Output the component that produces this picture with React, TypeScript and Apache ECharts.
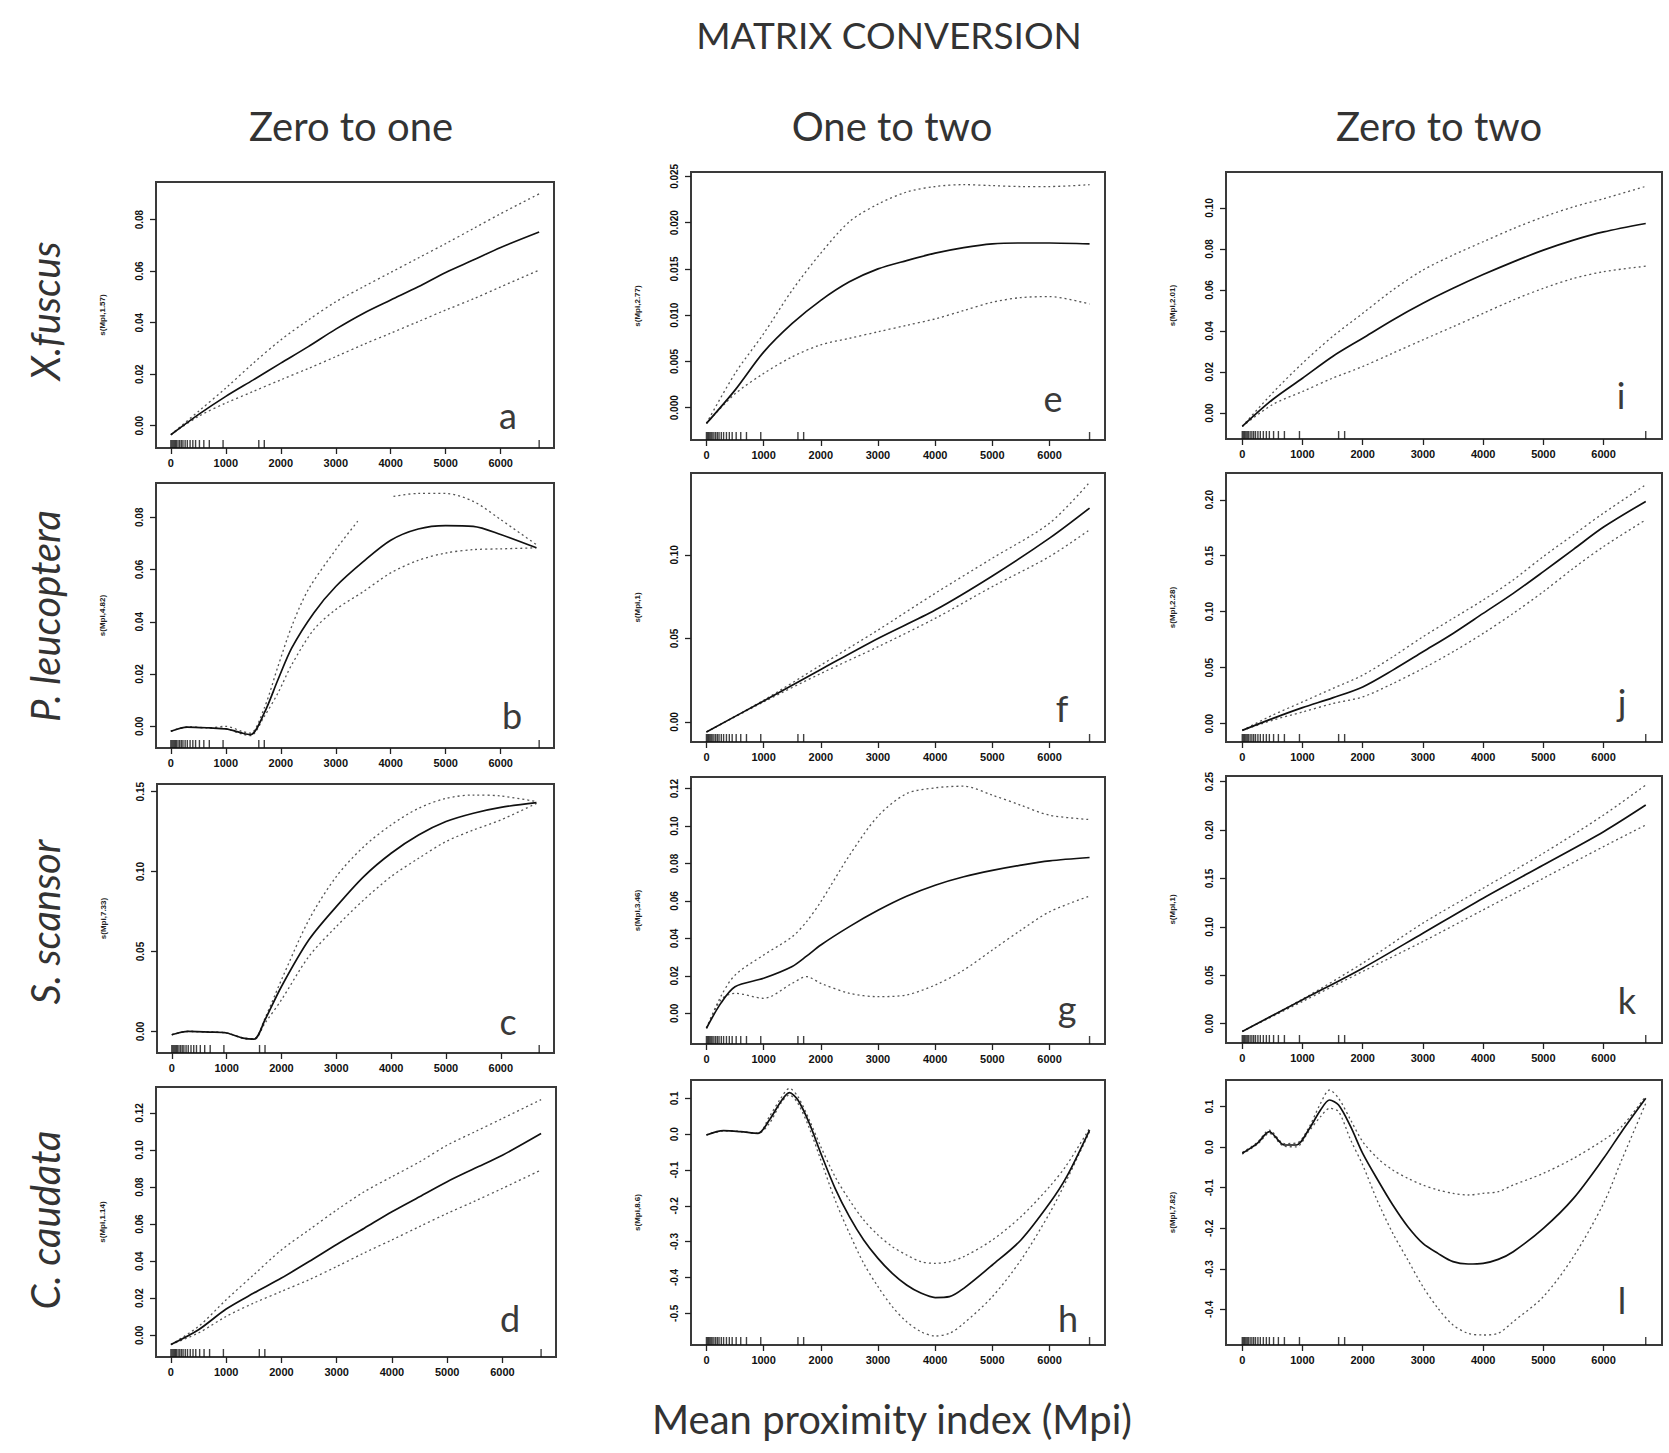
import React, { useEffect, useRef } from "react";
import * as echarts from "echarts";

// ---------- shared axes ----------
const X_MIN = -270;
const X_MAX = 6970;
const X_TICKS = [0, 1000, 2000, 3000, 4000, 5000, 6000];
const X_RUG = [0, 20, 40, 60, 80, 100, 130, 160, 190, 220, 260, 300, 350, 400, 450, 520, 600, 700, 950, 1600, 1700, 6700];

const xStd = [0, 500, 1000, 1500, 2000, 2500, 3000, 3500, 4000, 4500, 5000, 5500, 6000, 6700];
const xSparse = [0, 1000, 2000, 3000, 4000, 5000, 6000, 6700];

// ---------- panel a (X. fuscus, zero to one) ----------
const aFit = [-0.0035, 0.0043, 0.0114, 0.0178, 0.0243, 0.0307, 0.0375, 0.0436, 0.0488, 0.0539, 0.0595, 0.0643, 0.0692, 0.0752];
const aUp = [-0.0035, 0.0055, 0.0146, 0.0243, 0.0333, 0.041, 0.0481, 0.0539, 0.0595, 0.0651, 0.0707, 0.0765, 0.0823, 0.09];
const aLo = [-0.0035, 0.0036, 0.0088, 0.0133, 0.0178, 0.0222, 0.0268, 0.0315, 0.0359, 0.0404, 0.0449, 0.0492, 0.0539, 0.0604];

// ---------- panel b (P. leucoptera, zero to one) ----------
const xB = [0, 300, 700, 1000, 1300, 1450, 1700, 1950, 2200, 2600, 3000, 3500, 4000, 4500, 5000, 5500, 6000, 6650];
const bFit = [-0.0019, -0.0003, -0.0006, -0.001, -0.0026, -0.0032, 0.0051, 0.0179, 0.03, 0.0434, 0.0535, 0.063, 0.0712, 0.0755, 0.0768, 0.0765, 0.0734, 0.0683];
const bLo = [-0.0019, -0.0003, -0.0006, -0.001, -0.003, -0.0036, 0.0038, 0.0128, 0.0236, 0.037, 0.0447, 0.0515, 0.0587, 0.0635, 0.0663, 0.0676, 0.0679, 0.0683];
const xBUp = [0, 300, 700, 1000, 1300, 1450, 1700, 1950, 2200, 2500, 3000, 3400, 3600, 4050, 4500, 5000, 5500, 6000, 6650];
const bUp = [-0.0019, -0.0003, -0.0006, 0.0, -0.002, -0.0026, 0.007, 0.023, 0.0383, 0.0523, 0.0676, 0.0785, null, 0.088, 0.0891, 0.0891, 0.0861, 0.0791, 0.0695];

// ---------- panel c (S. scansor, zero to one) ----------
const xC = [0, 300, 700, 1000, 1300, 1500, 1700, 2000, 2500, 3000, 3500, 4000, 4500, 5000, 5500, 6000, 6650];
const cFit = [-0.0021, 0.0, -0.0004, -0.001, -0.0042, -0.0048, 0.0073, 0.0281, 0.0573, 0.0781, 0.0969, 0.1115, 0.1229, 0.1313, 0.1365, 0.1402, 0.1431];
const cUp = [-0.0021, 0.0, -0.0004, -0.001, -0.004, -0.0046, 0.0083, 0.0323, 0.0698, 0.0969, 0.1156, 0.1292, 0.1396, 0.1458, 0.1479, 0.1473, 0.1438];
const cLo = [-0.0021, 0.0, -0.0004, -0.001, -0.0044, -0.005, 0.0052, 0.0198, 0.0469, 0.0656, 0.0823, 0.0969, 0.1083, 0.1188, 0.126, 0.1323, 0.1427];

// ---------- panel d (C. caudata, zero to one) ----------
const dFit = [-0.005, 0.003, 0.0142, 0.0228, 0.0309, 0.0398, 0.049, 0.0578, 0.0667, 0.0748, 0.0829, 0.0901, 0.0972, 0.1089];
const dUp = [-0.005, 0.0048, 0.0192, 0.0327, 0.0461, 0.0569, 0.0676, 0.0775, 0.0856, 0.0936, 0.1026, 0.1098, 0.117, 0.1272];
const dLo = [-0.005, 0.0013, 0.0102, 0.0174, 0.0237, 0.03, 0.0371, 0.0445, 0.0515, 0.0587, 0.0658, 0.0724, 0.0793, 0.0892];

// ---------- panel e (X. fuscus, one to two) ----------
const eFit = [-0.0017, 0.0019, 0.006, 0.0091, 0.0116, 0.0136, 0.015, 0.0159, 0.0167, 0.0173, 0.0177, 0.0178, 0.0178, 0.0177];
const eUp = [-0.0017, 0.0037, 0.008, 0.0127, 0.0167, 0.0201, 0.022, 0.0233, 0.0239, 0.0241, 0.024, 0.0239, 0.0239, 0.0241];
const eLo = [-0.0017, 0.0015, 0.0037, 0.0055, 0.0068, 0.0075, 0.0082, 0.0089, 0.0096, 0.0105, 0.0114, 0.0119, 0.012, 0.0112];

// ---------- panel f (P. leucoptera, one to two) ----------
const fFit = [-0.006, 0.0126, 0.0314, 0.05, 0.067, 0.0874, 0.11, 0.128];
const fUp = [-0.006, 0.013, 0.034, 0.055, 0.077, 0.098, 0.119, 0.1434];
const fLo = [-0.006, 0.012, 0.029, 0.045, 0.062, 0.081, 0.099, 0.115];

// ---------- panel g (S. scansor, one to two) ----------
const xG = [0, 250, 500, 1000, 1500, 1750, 2000, 2500, 3000, 3500, 4000, 4500, 5000, 5500, 6000, 6700];
const gFit = [-0.008, 0.0053, 0.0142, 0.0187, 0.025, 0.0305, 0.0365, 0.0463, 0.055, 0.0625, 0.0684, 0.0729, 0.0763, 0.0791, 0.0814, 0.0832];
const gUp = [-0.008, 0.0089, 0.0204, 0.0311, 0.0409, 0.0489, 0.0596, 0.0843, 0.1053, 0.1173, 0.1204, 0.1213, 0.1165, 0.1111, 0.1058, 0.1035];
const gLo = [-0.008, 0.0071, 0.0107, 0.008, 0.016, 0.0196, 0.016, 0.0107, 0.0089, 0.0098, 0.0151, 0.0231, 0.0338, 0.0444, 0.0542, 0.0626];

// ---------- panel h (C. caudata, one to two) ----------
const xH = [0, 300, 600, 900, 1100, 1300, 1450, 1600, 1800, 2000, 2250, 2500, 2750, 3000, 3250, 3500, 3750, 4000, 4250, 4500, 5000, 5500, 6000, 6300, 6700];
const hFit = [-0.0023, 0.0098, 0.007, 0.0023, 0.0395, 0.0907, 0.1158, 0.0953, 0.0302, -0.0535, -0.1512, -0.2302, -0.2953, -0.3465, -0.3884, -0.4209, -0.4435, -0.4559, -0.4535, -0.4302, -0.3651, -0.2953, -0.193, -0.1186, 0.0116];
const hUp = [-0.0023, 0.0098, 0.007, 0.0023, 0.0488, 0.1, 0.1279, 0.1047, 0.0395, -0.0349, -0.1186, -0.1837, -0.2395, -0.2814, -0.314, -0.3372, -0.3558, -0.3605, -0.3558, -0.3419, -0.2953, -0.2302, -0.1465, -0.086, 0.0163];
const hLo = [-0.0023, 0.0098, 0.007, 0.0023, 0.0302, 0.086, 0.1093, 0.086, 0.0163, -0.0721, -0.1837, -0.2767, -0.3605, -0.4256, -0.4814, -0.5233, -0.5512, -0.5633, -0.5558, -0.5279, -0.4535, -0.3512, -0.2209, -0.1279, 0.007];

// ---------- panel i (X. fuscus, zero to two) ----------
const iFit = [-0.0065, 0.0065, 0.017, 0.0276, 0.0365, 0.0454, 0.0535, 0.0608, 0.0675, 0.0737, 0.0794, 0.0843, 0.0883, 0.0924];
const iUp = [-0.0065, 0.0097, 0.0243, 0.0373, 0.0486, 0.06, 0.0697, 0.077, 0.0835, 0.0899, 0.0956, 0.1005, 0.1045, 0.1105];
const iLo = [-0.0065, 0.0041, 0.0105, 0.017, 0.0227, 0.0292, 0.0357, 0.0421, 0.0486, 0.0551, 0.0608, 0.0656, 0.0689, 0.0716];

// ---------- panel j (P. leucoptera, zero to two) ----------
const jFit = [-0.006, 0.0045, 0.0143, 0.023, 0.0328, 0.0478, 0.0642, 0.0806, 0.0985, 0.1164, 0.1358, 0.1557, 0.1756, 0.1985];
const jUp = [-0.006, 0.0075, 0.0194, 0.0313, 0.0433, 0.0597, 0.0776, 0.094, 0.1104, 0.1284, 0.1493, 0.1687, 0.1881, 0.2134];
const jLo = [-0.006, 0.003, 0.0104, 0.0179, 0.0239, 0.0358, 0.0493, 0.0642, 0.0806, 0.0985, 0.1179, 0.1388, 0.1582, 0.1821];

// ---------- panel k (S. scansor, zero to two) ----------
const kFit = [-0.0079, 0.0248, 0.0574, 0.0935, 0.1297, 0.164, 0.1984, 0.2259];
const kUp = [-0.0079, 0.0254, 0.0626, 0.1039, 0.14, 0.1761, 0.2156, 0.2466];
const kLo = [-0.0079, 0.023, 0.054, 0.0849, 0.1176, 0.1503, 0.183, 0.2053];

// ---------- panel l (C. caudata, zero to two) ----------
const xL = [0, 250, 450, 700, 900, 1100, 1300, 1450, 1600, 1800, 2000, 2250, 2500, 2750, 3000, 3250, 3500, 3750, 4000, 4250, 4500, 5000, 5500, 6000, 6300, 6700];
const lFit = [-0.0151, 0.0095, 0.0383, 0.0054, 0.0054, 0.0424, 0.0918, 0.1164, 0.1041, 0.0507, -0.0151, -0.0809, -0.1426, -0.1961, -0.2372, -0.2619, -0.2824, -0.2882, -0.2865, -0.2767, -0.2578, -0.2002, -0.1262, -0.0275, 0.0383, 0.1206];
const lUp = [-0.013, 0.012, 0.042, 0.009, 0.01, 0.047, 0.1082, 0.1411, 0.1206, 0.0671, 0.0137, -0.0275, -0.0563, -0.0768, -0.0933, -0.1056, -0.1138, -0.1179, -0.1138, -0.1097, -0.0933, -0.0645, -0.0275, 0.0178, 0.0507, 0.126];
const lLo = [-0.017, 0.007, 0.034, 0.002, 0.001, 0.038, 0.0753, 0.0959, 0.0877, 0.0178, -0.0439, -0.1344, -0.2125, -0.2783, -0.3441, -0.3975, -0.4387, -0.4592, -0.4633, -0.4592, -0.4304, -0.3688, -0.2701, -0.1385, -0.0316, 0.1082];

// ---------- y-axis tick labels ----------
const TICKS_002_08 = [0, 0.02, 0.04, 0.06, 0.08];
const TICKS_005_15 = [0, 0.05, 0.1, 0.15];
const TICKS_002_12 = [0, 0.02, 0.04, 0.06, 0.08, 0.1, 0.12];
const TICKS_0005_025 = [0, 0.005, 0.01, 0.015, 0.02, 0.025];
const TICKS_005_10 = [0, 0.05, 0.1];
const TICKS_H = [-0.5, -0.4, -0.3, -0.2, -0.1, 0.0, 0.1];
const TICKS_002_10 = [0, 0.02, 0.04, 0.06, 0.08, 0.1];
const TICKS_005_20 = [0, 0.05, 0.1, 0.15, 0.2];
const TICKS_005_25 = [0, 0.05, 0.1, 0.15, 0.2, 0.25];
const TICKS_L = [-0.4, -0.3, -0.2, -0.1, 0.0, 0.1];

const Y_NAMES = ["s(Mpi,1.57)", "s(Mpi,4.82)", "s(Mpi,7.33)", "s(Mpi,1.14)", "s(Mpi,2.77)", "s(Mpi,1)", "s(Mpi,3.46)", "s(Mpi,8.6)", "s(Mpi,2.01)", "s(Mpi,2.28)", "s(Mpi,1)", "s(Mpi,7.82)"];
const LETTERS = ["a", "b", "c", "d", "e", "f", "g", "h", "i", "j", "k", "l"];
const COL_TITLES = ["Zero to one", "One to two", "Zero to two"];
const ROW_TITLES = ["X.fuscus", "P. leucoptera", "S. scansor", "C. caudata"];

// panel data (order a..l)
const PANELS = [
  { fitX: xStd, fit: aFit, upX: xStd, up: aUp, loX: xStd, lo: aLo, ticks: TICKS_002_08, dec: 2 },
  { fitX: xB, fit: bFit, upX: xBUp, up: bUp, loX: xB, lo: bLo, ticks: TICKS_002_08, dec: 2 },
  { fitX: xC, fit: cFit, upX: xC, up: cUp, loX: xC, lo: cLo, ticks: TICKS_005_15, dec: 2 },
  { fitX: xStd, fit: dFit, upX: xStd, up: dUp, loX: xStd, lo: dLo, ticks: TICKS_002_12, dec: 2 },
  { fitX: xStd, fit: eFit, upX: xStd, up: eUp, loX: xStd, lo: eLo, ticks: TICKS_0005_025, dec: 3 },
  { fitX: xSparse, fit: fFit, upX: xSparse, up: fUp, loX: xSparse, lo: fLo, ticks: TICKS_005_10, dec: 2 },
  { fitX: xG, fit: gFit, upX: xG, up: gUp, loX: xG, lo: gLo, ticks: TICKS_002_12, dec: 2 },
  { fitX: xH, fit: hFit, upX: xH, up: hUp, loX: xH, lo: hLo, ticks: TICKS_H, dec: 1 },
  { fitX: xStd, fit: iFit, upX: xStd, up: iUp, loX: xStd, lo: iLo, ticks: TICKS_002_10, dec: 2 },
  { fitX: xStd, fit: jFit, upX: xStd, up: jUp, loX: xStd, lo: jLo, ticks: TICKS_005_20, dec: 2 },
  { fitX: xSparse, fit: kFit, upX: xSparse, up: kUp, loX: xSparse, lo: kLo, ticks: TICKS_005_25, dec: 2 },
  { fitX: xL, fit: lFit, upX: xL, up: lUp, loX: xL, lo: lLo, ticks: TICKS_L, dec: 1 },
];

// axis ranges (a..l)
const Y_RANGES = [
  [-0.00865, 0.0946], [-0.0083, 0.0931], [-0.0135, 0.1548], [-0.0117, 0.134],
  [-0.00349, 0.02547], [-0.012, 0.149], [-0.0164, 0.1262], [-0.5884, 0.1512],
  [-0.01264, 0.1175], [-0.0164, 0.2239], [-0.0199, 0.2559], [-0.488, 0.1658],
];

// layout (pixels) a..l
const LAYOUT = [
  { left: 156, top: 182, width: 398, height: 266 },
  { left: 156, top: 483, width: 398, height: 265 },
  { left: 157, top: 784, width: 397, height: 269 },
  { left: 156, top: 1087, width: 400, height: 270 },
  { left: 691, top: 172, width: 414, height: 268 },
  { left: 691, top: 473, width: 414, height: 269 },
  { left: 691, top: 777, width: 414, height: 267 },
  { left: 691, top: 1080, width: 414, height: 265 },
  { left: 1226, top: 172, width: 436, height: 267 },
  { left: 1226, top: 473, width: 436, height: 269 },
  { left: 1226, top: 776, width: 436, height: 267 },
  { left: 1226, top: 1080, width: 436, height: 265 },
];
const LETTER_POS = [
  [508, 415], [512, 715], [508, 1021], [510, 1318],
  [1053, 398], [1062, 708], [1067, 1008], [1068, 1318],
  [1621, 395], [1622, 702], [1627, 1000], [1622, 1300],
];

const FONT = "Lato, 'Open Sans', 'DejaVu Sans', sans-serif";
const TICK_FONT = "'Liberation Sans', Arial, sans-serif";

function pairs(xs: number[], ys: (number | null)[]) {
  return xs.map((x, i) => [x, ys[i]]);
}

export default function App() {
  const ref = useRef<HTMLDivElement>(null);
  useEffect(() => {
    if (!ref.current) return;
    const chart = echarts.init(ref.current, null, { renderer: "svg" });

    const grid: any[] = [];
    const xAxis: any[] = [];
    const yAxis: any[] = [];
    const series: any[] = [];
    const graphic: any[] = [];

    PANELS.forEach((p, i) => {
      const L = LAYOUT[i];
      grid.push({
        left: L.left, top: L.top, width: L.width, height: L.height,
        show: true, borderColor: "#3a3a3a", borderWidth: 2, backgroundColor: "transparent",
        containLabel: false,
      });
      xAxis.push({
        gridIndex: i, type: "value", min: X_MIN, max: X_MAX, position: "bottom",
        axisLine: { show: false, onZero: false }, splitLine: { show: false },
        axisTick: { show: true, inside: false, length: 6, lineStyle: { color: "#222", width: 1.3 }, customValues: X_TICKS },
        axisLabel: {
          customValues: X_TICKS, fontSize: 11, fontWeight: "bold", color: "#111", margin: 9, fontFamily: TICK_FONT,
          formatter: (v: number) => String(Math.round(v)),
        },
      });
      yAxis.push({
        gridIndex: i, type: "value", min: Y_RANGES[i][0], max: Y_RANGES[i][1], position: "left",
        axisLine: { show: false, onZero: false }, splitLine: { show: false },
        axisTick: { show: true, inside: false, length: 6, lineStyle: { color: "#222", width: 1.3 }, customValues: p.ticks },
        axisLabel: {
          customValues: p.ticks, rotate: 90, fontSize: 10, fontWeight: "bold", color: "#111", margin: 12,
          fontFamily: TICK_FONT,
          formatter: (v: number) => v.toFixed(p.dec),
        },
        name: Y_NAMES[i], nameLocation: "middle", nameGap: 50, nameRotate: 90,
        nameTextStyle: { fontSize: 8, fontWeight: "bold", color: "#222", fontFamily: TICK_FONT },
      });
      const dotted = { color: "#555", width: 1.3, type: [2, 3] };
      series.push({
        type: "line", xAxisIndex: i, yAxisIndex: i, data: pairs(p.upX, p.up), symbol: "none", smooth: 0.3,
        connectNulls: false, lineStyle: dotted, silent: true,
      });
      series.push({
        type: "line", xAxisIndex: i, yAxisIndex: i, data: pairs(p.loX, p.lo), symbol: "none", smooth: 0.3,
        lineStyle: dotted, silent: true,
      });
      series.push({
        type: "line", xAxisIndex: i, yAxisIndex: i, data: pairs(p.fitX, p.fit), symbol: "none", smooth: 0.3,
        lineStyle: { color: "#111", width: 1.7 }, silent: true,
      });
      series.push({
        type: "scatter", xAxisIndex: i, yAxisIndex: i,
        data: X_RUG.map((x) => [x, Y_RANGES[i][0]]),
        symbol: "rect", symbolSize: [1.4, 8], symbolOffset: [0, -4],
        itemStyle: { color: "#111" }, silent: true, clip: false,
      });
      graphic.push({
        type: "text", x: LETTER_POS[i][0], y: LETTER_POS[i][1],
        style: { text: LETTERS[i], fontSize: 36, fontFamily: FONT, fill: "#3a3a3a", textAlign: "center", textVerticalAlign: "middle", align: "center", verticalAlign: "middle" },
      });
    });

    // titles
    graphic.push({
      type: "text", x: 889, y: 34,
      style: { text: "MATRIX CONVERSION", fontSize: 37, fontFamily: FONT, fill: "#333", textAlign: "center", textVerticalAlign: "middle", align: "center", verticalAlign: "middle" },
    });
    const colX = [351, 892, 1439];
    COL_TITLES.forEach((t, c) => {
      graphic.push({
        type: "text", x: colX[c], y: 126,
        style: { text: t, fontSize: 40, fontFamily: FONT, fill: "#333", textAlign: "center", textVerticalAlign: "middle", align: "center", verticalAlign: "middle" },
      });
    });
    const rowY = [311, 616, 922, 1220];
    ROW_TITLES.forEach((t, r) => {
      graphic.push({
        type: "text", x: 45, y: rowY[r], rotation: Math.PI / 2,
        style: { text: t, fontSize: 40, fontStyle: "italic", fontFamily: FONT, fill: "#333", textAlign: "center", textVerticalAlign: "middle", align: "center", verticalAlign: "middle" },
      });
    });
    graphic.push({
      type: "text", x: 892, y: 1419,
      style: { text: "Mean proximity index (Mpi)", fontSize: 40, fontFamily: FONT, fill: "#333", textAlign: "center", textVerticalAlign: "middle", align: "center", verticalAlign: "middle" },
    });

    chart.setOption({
      animation: false,
      backgroundColor: "#ffffff",
      grid, xAxis, yAxis, series, graphic,
    });
    return () => chart.dispose();
  }, []);

  return <div ref={ref} style={{ position: "absolute", left: 0, top: 0, width: 1669, height: 1453 }} />;
}
